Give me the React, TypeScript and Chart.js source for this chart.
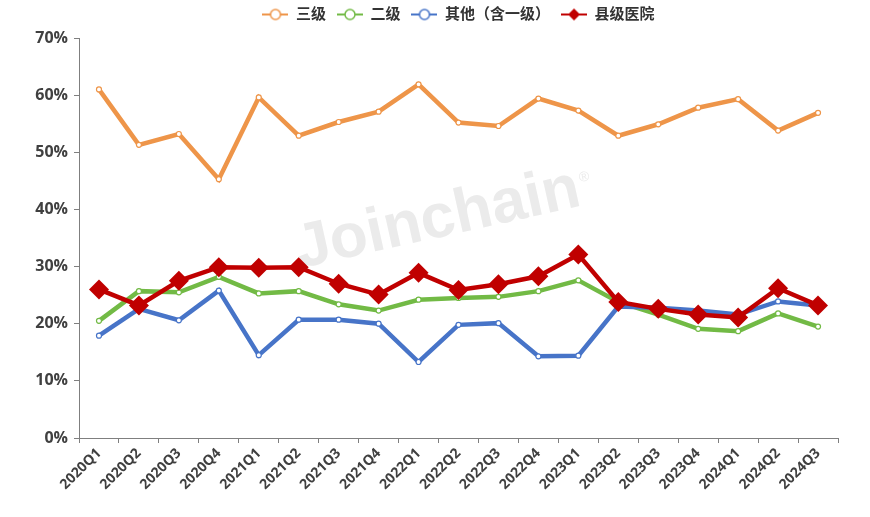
import { useEffect, useRef } from 'react'
import { Chart, registerables } from 'chart.js'

Chart.register(...registerables)

const quarters = [
  '2020Q1', '2020Q2', '2020Q3', '2020Q4',
  '2021Q1', '2021Q2', '2021Q3', '2021Q4',
  '2022Q1', '2022Q2', '2022Q3', '2022Q4',
  '2023Q1', '2023Q2', '2023Q3', '2023Q4',
  '2024Q1', '2024Q2', '2024Q3',
]

// 三级
const tier3 = [61.0, 51.3, 53.2, 45.3, 59.6, 52.9, 55.3, 57.1, 61.9, 55.2, 54.6, 59.4, 57.3, 52.9, 54.9, 57.8, 59.3, 53.8, 56.9]
// 二级
const tier2 = [20.5, 25.7, 25.5, 28.2, 25.3, 25.7, 23.4, 22.3, 24.2, 24.5, 24.7, 25.7, 27.6, 23.8, 21.6, 19.1, 18.7, 21.8, 19.5]
// 其他（含一级）
const others = [17.9, 22.6, 20.6, 25.8, 14.5, 20.7, 20.7, 20.0, 13.3, 19.8, 20.1, 14.3, 14.4, 23.0, 22.8, 22.3, 21.6, 23.9, 23.2]
// 县级医院
const county = [26.0, 23.2, 27.5, 29.9, 29.8, 29.9, 27.0, 25.1, 28.9, 25.9, 26.9, 28.3, 32.1, 23.8, 22.6, 21.6, 21.1, 26.2, 23.2]

const COLORS = {
  orange: '#EE9549',
  green: '#72BA45',
  blue: '#4774C8',
  red: '#C00000',
}

const FONT = '"Open Sans", "Noto Sans CJK SC", sans-serif'
const TEXT = '#404040'

// legend icon: a short line with the point marker on it
function makeIcon(color: string, diamond: boolean) {
  const c = document.createElement('canvas')
  c.width = 26
  c.height = 16
  const ctx = c.getContext('2d')!
  ctx.strokeStyle = color
  ctx.lineWidth = 2
  ctx.beginPath()
  ctx.moveTo(0, 8)
  ctx.lineTo(26, 8)
  ctx.stroke()
  if (diamond) {
    ctx.fillStyle = color
    ctx.beginPath()
    ctx.moveTo(13, 2)
    ctx.lineTo(19, 8)
    ctx.lineTo(13, 14)
    ctx.lineTo(7, 8)
    ctx.closePath()
    ctx.fill()
  } else {
    ctx.fillStyle = '#fff'
    ctx.lineWidth = 1.5
    ctx.beginPath()
    ctx.arc(13, 8, 5, 0, Math.PI * 2)
    ctx.fill()
    ctx.stroke()
  }
  return c
}

const watermark = {
  id: 'watermark',
  afterLayout(chart: any) {
    // pull the legend row up a bit, the plot area stays where it is
    if (chart.legend) chart.legend.top = -4
  },
  beforeDatasetsDraw(chart: any) {
    const { ctx } = chart
    ctx.save()
    ctx.translate(438, 220)
    ctx.rotate(-12.5 * Math.PI / 180)
    ctx.fillStyle = '#ebebeb'
    ctx.font = 'bold 62px "Liberation Sans", Arial, sans-serif'
    ctx.textAlign = 'center'
    ctx.textBaseline = 'middle'
    ctx.fillText('Joinchain', 0, 0)
    const w = ctx.measureText('Joinchain').width
    ctx.font = '14px "Liberation Sans", Arial, sans-serif'
    ctx.textAlign = 'left'
    ctx.fillText('®', w / 2 + 2, -10)
    ctx.restore()
  },
}

export default function App() {
  const canvasRef = useRef<HTMLCanvasElement>(null)
  const chartRef = useRef<Chart | null>(null)

  useEffect(() => {
    if (!canvasRef.current) return
    if (chartRef.current) chartRef.current.destroy()

    const series = [
      { label: '三级', data: tier3, color: COLORS.orange, diamond: false, order: 3 },
      { label: '二级', data: tier2, color: COLORS.green, diamond: false, order: 2 },
      { label: '其他（含一级）', data: others, color: COLORS.blue, diamond: false, order: 1 },
      { label: '县级医院', data: county, color: COLORS.red, diamond: true, order: 0 },
    ]
    const icons = series.map(s => makeIcon(s.color, s.diamond))

    chartRef.current = new Chart(canvasRef.current, {
      type: 'line',
      data: {
        labels: quarters,
        datasets: series.map(s => ({
          label: s.label,
          data: s.data,
          order: s.order,
          borderColor: s.color,
          backgroundColor: s.diamond ? s.color : '#ffffff',
          borderWidth: 4.5,
          tension: 0,
          pointStyle: s.diamond ? 'rectRot' : 'circle',
          pointRadius: s.diamond ? 10 : 2.5,
          pointBorderWidth: s.diamond ? 0 : 1.2,
          pointBorderColor: s.color,
          pointBackgroundColor: s.diamond ? s.color : '#ffffff',
        })),
      },
      options: {
        animation: false,
        responsive: true,
        maintainAspectRatio: false,
        layout: { padding: { top: 2, right: 32, left: 0, bottom: 0 } },
        plugins: {
          legend: {
            position: 'top',
            fullSize: false,
            labels: {
              usePointStyle: true,
              pointStyleWidth: 26,
              padding: 11,
              color: '#333333',
              font: { family: FONT, size: 15, weight: 'bold' },
              generateLabels: () =>
                series.map((s, i) => ({
                  text: s.label,
                  pointStyle: icons[i],
                  fillStyle: s.color,
                  strokeStyle: s.color,
                  lineWidth: 0,
                  hidden: false,
                  datasetIndex: i,
                  fontColor: '#333333',
                })),
            },
          },
          tooltip: { enabled: false },
        },
        scales: {
          x: {
            type: 'category',
            offset: true,
            afterFit: (scale: any) => { scale.height = 79 },
            border: { color: '#7f7f7f', width: 1 },
            grid: {
              offset: true,
              drawOnChartArea: false,
              drawTicks: true,
              tickLength: 5,
              color: '#7f7f7f',
            },
            ticks: {
              autoSkip: false,
              minRotation: 45,
              maxRotation: 45,
              padding: 2,
              color: TEXT,
              font: { family: FONT, size: 14, weight: 'bold' },
            },
          },
          y: {
            min: 0,
            max: 70,
            afterFit: (scale: any) => { scale.width = 79 },
            border: { color: '#7f7f7f', width: 1 },
            grid: {
              drawOnChartArea: false,
              drawTicks: true,
              tickLength: 5,
              color: '#7f7f7f',
            },
            ticks: {
              stepSize: 10,
              padding: 6,
              color: TEXT,
              font: { family: FONT, size: 16, weight: 'bold' },
              callback: (v: any) => v + '%',
            },
          },
        },
      },
      plugins: [watermark],
    } as any)

    return () => {
      if (chartRef.current) {
        chartRef.current.destroy()
        chartRef.current = null
      }
    }
  }, [])

  return (
    <div style={{ position: 'fixed', left: 0, top: 0, width: 870, height: 517, background: '#fff' }}>
      <canvas ref={canvasRef} />
    </div>
  )
}
